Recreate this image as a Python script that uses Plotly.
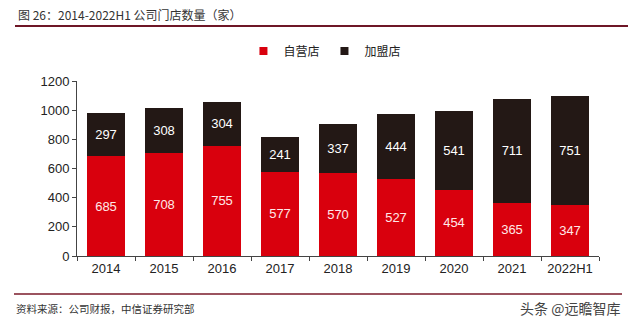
import plotly.graph_objects as go

years = ["2014", "2015", "2016", "2017", "2018", "2019", "2020", "2021", "2022H1"]
self_run = [685, 708, 755, 577, 570, 527, 454, 365, 347]
franchise = [297, 308, 304, 241, 337, 444, 541, 711, 751]

RED = "#d9000d"
DARK = "#231815"
FONT = "Liberation Sans, Arial, sans-serif"
CJK = "Noto Sans CJK SC, sans-serif"

fig = go.Figure()
fig.add_trace(go.Bar(
    x=years, y=self_run, name="自营店", marker=dict(color=RED, line=dict(width=0)),
    text=[str(v) for v in self_run], textposition="inside", insidetextanchor="middle",
    textfont=dict(color="#ffe8e8", size=13, family=FONT), showlegend=False,
))
fig.add_trace(go.Bar(
    x=years, y=franchise, name="加盟店", marker=dict(color=DARK, line=dict(width=0)),
    text=[str(v) for v in franchise], textposition="inside", insidetextanchor="middle",
    textfont=dict(color="white", size=13, family=FONT), showlegend=False,
))
for nm, col in [("自营店", RED), ("加盟店", DARK)]:
    fig.add_trace(go.Scatter(
        x=[None], y=[None], mode="markers", name=nm,
        marker=dict(symbol="square", size=8, color=col),
    ))

fig.update_layout(
    barmode="stack",
    bargap=0.34,
    width=633, height=323,
    margin=dict(l=77, r=34, t=81, b=67),
    paper_bgcolor="white", plot_bgcolor="white",
    font=dict(family=FONT, color="#222", size=13),
    uniformtext=dict(mode="show", minsize=12),
    legend=dict(
        orientation="h", x=0.475, xanchor="center", y=1 + (81 - 51) / 175, yanchor="middle",
        font=dict(family=CJK, size=12, color="#222"),
        itemwidth=30, traceorder="normal", tracegroupgap=0,
        bgcolor="rgba(0,0,0,0)",
    ),
    xaxis=dict(
        type="category", showline=True, linecolor="#444", linewidth=1,
        ticks="outside", tickson="boundaries", ticklen=4, tickcolor="#444",
        tickfont=dict(size=13, color="#222"), showgrid=False,
    ),
    yaxis=dict(
        range=[0, 1200], dtick=200, showline=True, linecolor="#444", linewidth=1,
        ticks="outside", ticklen=4, tickcolor="#444", showgrid=False, zeroline=False,
        tickfont=dict(size=13, color="#222"),
    ),
    showlegend=True,
)

fig.add_annotation(
    text="图 26：2014-2022H1 公司门店数量（家）", xref="paper", yref="paper",
    x=(16-77)/522, y=1 + (81 - 15) / 175, xanchor="left", yanchor="middle",
    showarrow=False, font=dict(family=CJK, size=12, color="#333"),
)
fig.add_shape(type="line", xref="paper", yref="paper", layer="above",
              x0=(15-77)/522, x1=(628-77)/522, y0=1 + (81-26)/175, y1=1 + (81-26)/175,
              line=dict(color="#6e1626", width=2))
fig.add_shape(type="line", xref="paper", yref="paper", layer="above",
              x0=(14-77)/522, x1=(622-77)/522, y0=-(294-256)/175, y1=-(294-256)/175,
              line=dict(color="#7a1a2a", width=1.5))
fig.add_annotation(
    text="资料来源：公司财报，中信证券研究部", xref="paper", yref="paper",
    x=(14-77)/522, y=-(308-256)/175, xanchor="left", yanchor="middle",
    showarrow=False, font=dict(family=CJK, size=10.5, color="#333"),
)
fig.add_annotation(
    text="头条 @远瞻智库", xref="paper", yref="paper",
    x=(622-77)/522, y=-(308-256)/175, xanchor="right", yanchor="middle",
    showarrow=False, font=dict(family=CJK, size=14, color="#444"),
)

fig.write_html("out.html")
